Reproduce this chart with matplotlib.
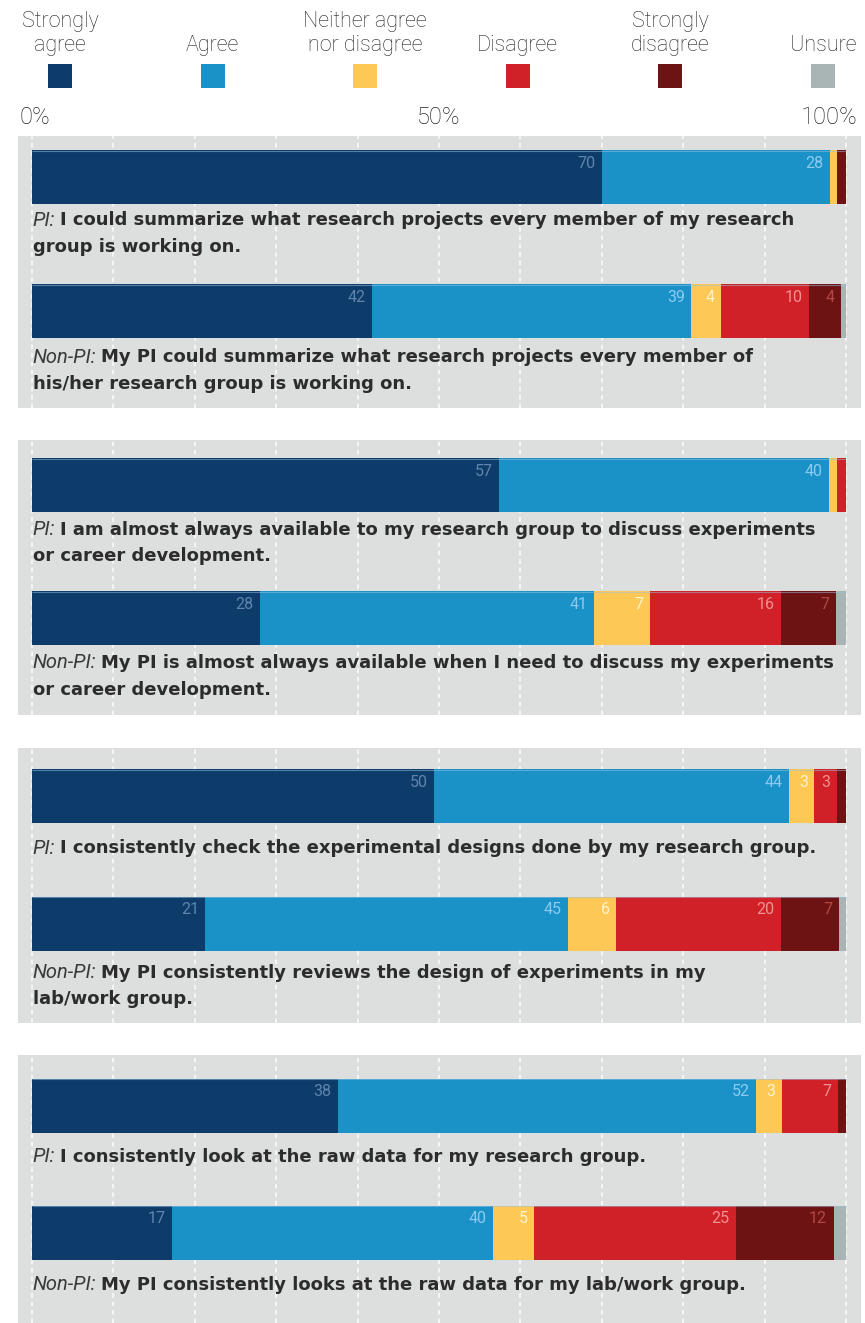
import matplotlib
matplotlib.use('Agg')
import matplotlib.pyplot as plt
import numpy as np

W, H = 865, 1323
fig = plt.figure(figsize=(W / 100, H / 100), dpi=100)

# ---------------- data ----------------
categories = ['Strongly\nagree', 'Agree', 'Neither agree\nnor disagree',
              'Disagree', 'Strongly\ndisagree', 'Unsure']
colors = ['#0d3c6b', '#1a91c7', '#fdc855', '#d02128', '#6e1313', '#a9b5b5']
label_colors = ['#5f84ad', '#8ccbf0', '#fff4cc', '#f39090', '#b04848', '#ffffff']

respondents = ['PI', 'Non-PI', 'PI', 'Non-PI', 'PI', 'Non-PI', 'PI', 'Non-PI']
statements = [
    ['I could summarize what research projects every member of my research', 'group is working on.'],
    ['My PI could summarize what research projects every member of', 'his/her research group is working on.'],
    ['I am almost always available to my research group to discuss experiments', 'or career development.'],
    ['My PI is almost always available when I need to discuss my experiments', 'or career development.'],
    ['I consistently check the experimental designs done by my research group.'],
    ['My PI consistently reviews the design of experiments in my', 'lab/work group.'],
    ['I consistently look at the raw data for my research group.'],
    ['My PI consistently looks at the raw data for my lab/work group.'],
]

strongly_agree    = [70.0, 41.8, 57.4, 28.0, 49.4, 21.3, 37.6, 17.2]
agree             = [28.0, 39.2, 40.5, 41.0, 43.6, 44.6, 51.4, 39.4]
neither           = [0.9, 3.7, 1.0, 6.9, 3.1, 5.9, 3.1, 5.1]
disagree          = [0.0, 10.8, 1.1, 16.1, 2.8, 20.2, 6.9, 24.8]
strongly_disagree = [1.1, 3.9, 0.0, 6.8, 1.1, 7.1, 1.0, 12.0]
unsure            = [0.0, 0.6, 0.0, 1.2, 0.0, 0.9, 0.0, 1.5]

sa_labels  = ['70', '42', '57', '28', '50', '21', '38', '17']
ag_labels  = ['28', '39', '40', '41', '44', '45', '52', '40']
ne_labels  = ['', '4', '', '7', '3', '6', '3', '5']
di_labels  = ['', '10', '', '16', '3', '20', '7', '25']
sd_labels  = ['', '4', '', '7', '', '7', '', '12']
un_labels  = ['', '', '', '', '', '', '', '']

tick_values = [0, 50, 100]
tick_labels = ['0%', '50%', '100%']

series = [strongly_agree, agree, neither, disagree, strongly_disagree, unsure]
series_labels = [sa_labels, ag_labels, ne_labels, di_labels, sd_labels, un_labels]

# ---------------- layout (pixels) ----------------
X0 = 32.0          # pixel of 0 %
PXP = 8.14         # pixels per percent
PANEL_L, PANEL_R = 18, 861
BAR_H = 54

# (panel top, panel bottom, [bar centers], [[text line centers] per row])
panels = [
    (136, 408, [177, 311], [[220, 247], [357, 384]]),
    (440, 715, [485.5, 618.5], [[530, 556], [663, 690]]),
    (748, 1023, [796, 923.5], [[848], [973, 999]]),
    (1055, 1323, [1105.5, 1232.5], [[1157], [1285]]),
]

TEXT_COLOR = '#2c2c2c'
Q_FONT = 'DejaVu Sans'
Q_SIZE = 13.0
LIGHT_FONT = 'Roboto'


def fig_rect(left, top, right, bottom):
    return [left / W, 1 - bottom / H, (right - left) / W, (bottom - top) / H]


xlim = ((PANEL_L - X0) / PXP, (PANEL_R - X0) / PXP)

# ---------------- header: legend + axis labels ----------------
hax = fig.add_axes(fig_rect(0, 0, W, 136))
hax.set_xlim((0 - X0) / PXP, (W - X0) / PXP)
hax.set_ylim(136, 0)
hax.axis('off')

leg_first, leg_step = (60 - X0) / PXP, 152.6 / PXP
leg_x = [leg_first + i * leg_step for i in range(len(categories))]
hax.bar(leg_x, 24, width=24 / PXP, bottom=64, color=colors, align='center')
for x, lab in zip(leg_x, categories):
    hax.text(x, 56, lab, ha='center', va='bottom', fontsize=15.5,
             family=LIGHT_FONT, fontweight='light', color='#222222',
             linespacing=1.2)

tick_ha = ['left', 'center', 'right']
tick_shift = [-12 / PXP, 0, 12 / PXP]
for v, lab, ha, sh in zip(tick_values, tick_labels, tick_ha, tick_shift):
    hax.text(v + sh, 118, lab, ha=ha, va='center', fontsize=17,
             family=LIGHT_FONT, fontweight='light', color='#222222')

# ---------------- panels ----------------
row = 0
for (ptop, pbot, centers, text_rows) in panels:
    ax = fig.add_axes(fig_rect(PANEL_L, ptop, PANEL_R, pbot))
    ax.set_facecolor('#dcdfde')
    ax.set_xlim(*xlim)
    ax.set_ylim(pbot - ptop, 0)
    for s in ax.spines.values():
        s.set_visible(False)
    ax.set_xticks(np.arange(0, 101, 10))
    ax.set_yticks([])
    ax.tick_params(axis='x', length=0, labelbottom=False)
    ax.grid(axis='x', color='white', linestyle=(0, (3, 2.5)), linewidth=1.1, alpha=0.9)
    ax.set_axisbelow(True)

    for k in range(2):
        i = row + k
        yc = centers[k] - ptop
        left = 0.0
        for j, (vals, labs) in enumerate(zip(series, series_labels)):
            w = vals[i]
            if w > 0:
                ax.barh(yc, w, left=left, height=BAR_H, color=colors[j],
                        linewidth=0, zorder=2)
                if labs[i]:
                    ax.text(left + w - 6.5 / PXP, yc - BAR_H / 2 + 13, labs[i],
                            ha='right', va='center', fontsize=11.5,
                            family=LIGHT_FONT, fontweight='normal',
                            color=label_colors[j], zorder=3)
            left += w
        # subtle light edge on top of each bar
        ax.hlines(yc - BAR_H / 2 + 0.5, 0, left, color='#9cc3e3', linewidth=0.8,
                  alpha=0.5, zorder=3)

        lines = statements[i]
        ys = [t - ptop for t in text_rows[k]]
        pre = ax.text(0.1, ys[0], respondents[i] + ':', ha='left', va='center',
                      fontsize=14.5, family=LIGHT_FONT, fontstyle='italic',
                      fontweight='normal', color='#3a3a3a', zorder=4)
        ax.annotate(lines[0], xy=(1, ys[0]), xycoords=(pre, 'data'),
                    xytext=(3.5, 0), textcoords='offset points',
                    ha='left', va='center', fontsize=Q_SIZE, family=Q_FONT,
                    fontweight='bold', color=TEXT_COLOR, zorder=4,
                    annotation_clip=False)
        for ln, yy in zip(lines[1:], ys[1:]):
            ax.text(0.1, yy, ln, ha='left', va='center', fontsize=Q_SIZE,
                    family=Q_FONT, fontweight='bold', color=TEXT_COLOR, zorder=4)
    row += 2

fig.savefig('out.png', dpi=100, facecolor='white')
